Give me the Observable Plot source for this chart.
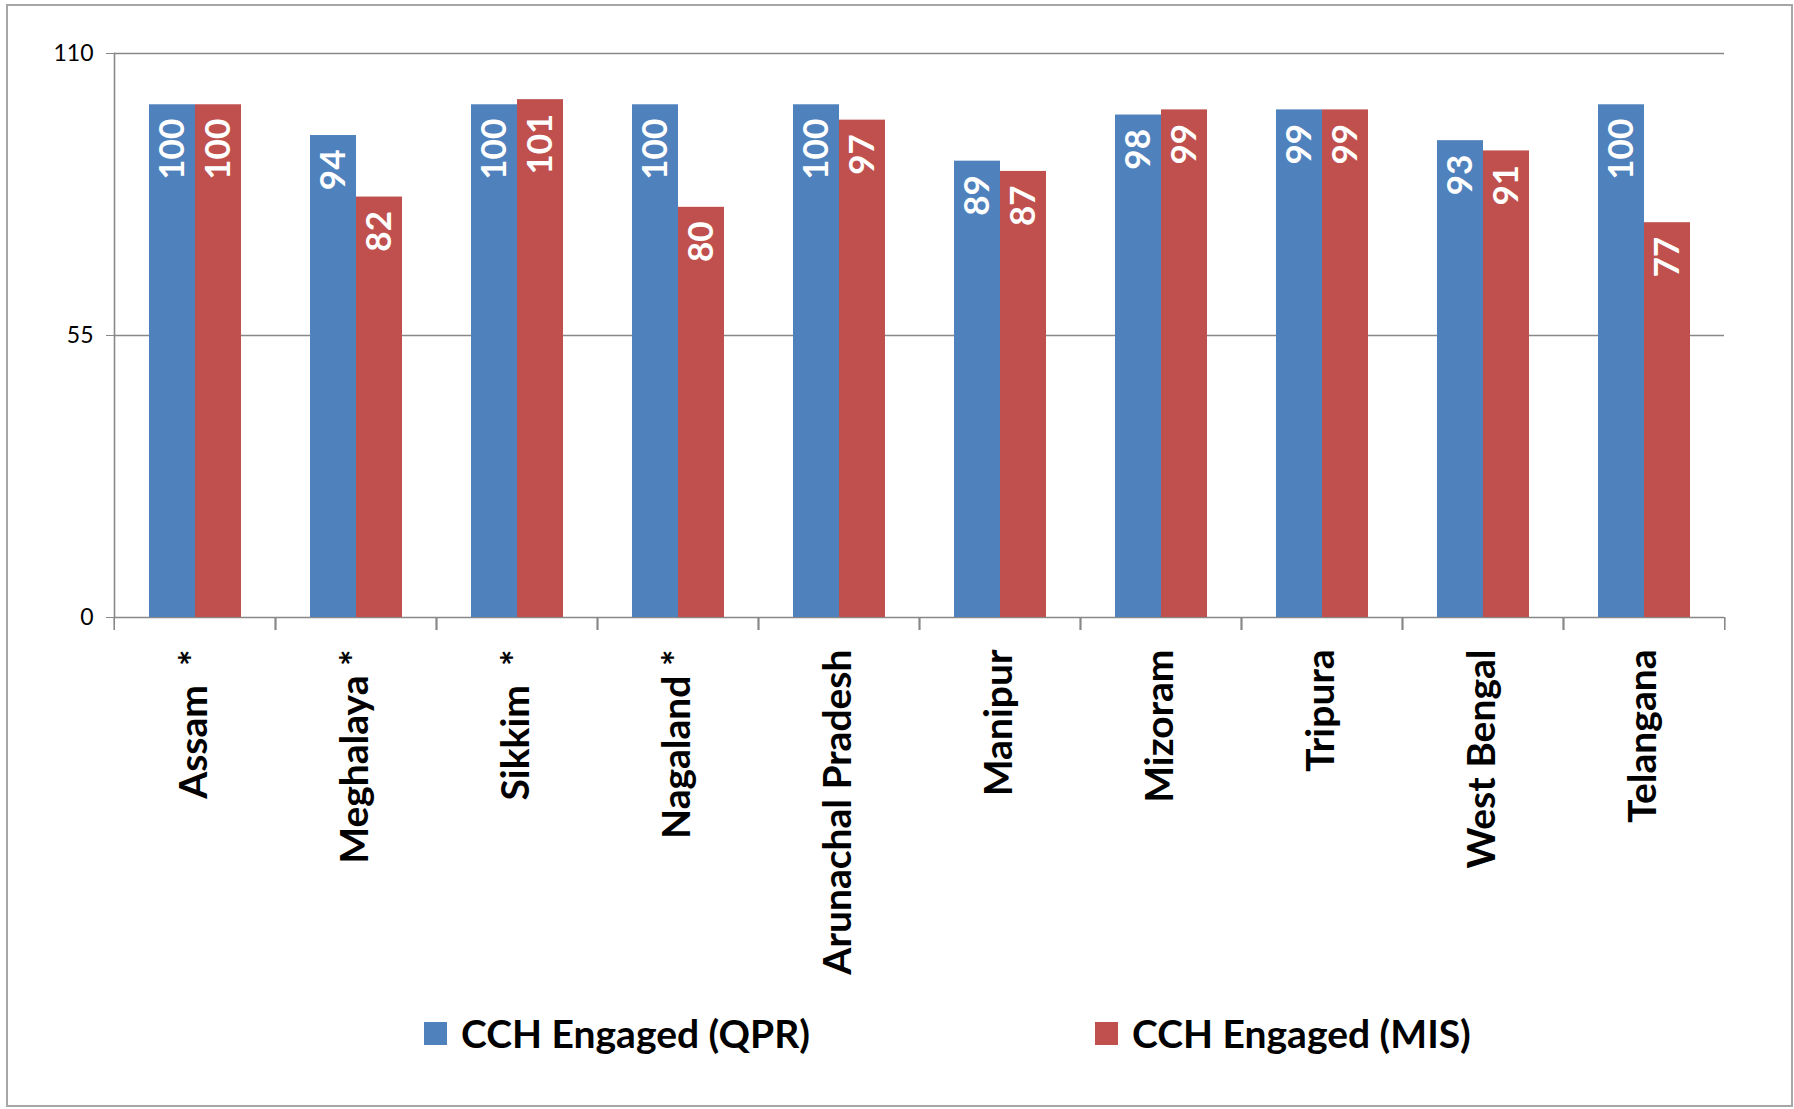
<!DOCTYPE html>
<html>
<head>
<meta charset="utf-8">
<script src="https://cdn.jsdelivr.net/npm/d3@7"></script>
<script src="https://cdn.jsdelivr.net/npm/@observablehq/plot@0.6"></script>
<style>
  html, body { margin: 0; padding: 0; background: #fff; }
  #wrap { position: relative; width: 1794px; height: 1109px; overflow: hidden; font-family: Lato, "Open Sans", sans-serif; }
  #border { position: absolute; left: 6px; top: 4px; width: 1783px; height: 1099px; border: 2px solid #a6a6a6; box-sizing: content-box; }
  #chart { position: absolute; left: 0; top: 0; }
  .leg { position: absolute; top: 1010px; display: flex; align-items: center; font-family: Lato, sans-serif; font-weight: bold; font-size: 39px; color: #000; }
  .sw { width: 23px; height: 23px; margin-right: 14px; }
</style>
</head>
<body>
<div id="wrap">
  <div id="border"></div>
  <div id="chart"></div>
  <div id="legend"></div>
</div>
<script>
const states = ["Assam", "Meghalaya", "Sikkim", "Nagaland", "Arunachal Pradesh", "Manipur", "Mizoram", "Tripura", "West Bengal", "Telangana"];
const stateLabels = ["Assam\u00a0\u00a0*", "Meghalaya\u00a0*", "Sikkim\u00a0\u00a0*", "Nagaland\u00a0*", "Arunachal Pradesh", "Manipur", "Mizoram", "Tripura", "West Bengal", "Telangana"];
const seriesNames = ["CCH Engaged (QPR)", "CCH Engaged (MIS)"];
const qprValues = [100, 94, 100, 100, 100, 89, 98, 99, 93, 100];
const misValues = [100, 82, 101, 80, 97, 87, 99, 99, 91, 77];
const seriesColors = ["#4F81BD", "#C0504D"];
const yTicks = [0, 55, 110];

const data = states.flatMap((s, i) => [
  {state: s, series: seriesNames[0], value: qprValues[i]},
  {state: s, series: seriesNames[1], value: misValues[i]}
]);

const W = 1794, H = 1000, mL = 111, mR = 67, mT = 53, mB = 383;
const step = (W - mL - mR) / states.length;
const labelOf = new Map(states.map((s, i) => [s, stateLabels[i]]));

const chart = Plot.plot({
  width: W, height: H,
  marginTop: mT, marginLeft: mL, marginRight: mR, marginBottom: mB,
  style: {fontFamily: "Lato, 'Open Sans', sans-serif", background: "transparent", color: "#000"},
  fx: {domain: states, padding: 0, label: null, axis: null},
  x: {domain: seriesNames, paddingInner: 0, paddingOuter: 0.74, axis: null},
  y: {domain: [0, 110], label: null, axis: null},
  color: {domain: seriesNames, range: seriesColors},
  marks: [
    Plot.gridY(yTicks, {stroke: "#888", strokeOpacity: 1, strokeWidth: 1.6}),
    Plot.frame({anchor: "left", facet: "super", stroke: "#888", strokeWidth: 1.6}),
    Plot.axisY({ticks: yTicks, tickSize: 8, tickPadding: 13, fontSize: 23, stroke: "#888", fill: "#000", label: null}),
    Plot.barY(data, {fx: "state", x: "series", y: "value", fill: "series"}),
    Plot.text(data, {fx: "state", x: "series", y: "value", text: d => String(d.value), rotate: -90, textAnchor: "end", dy: 14, fill: "white", fontSize: 35, fontWeight: "bold"}),
    Plot.axisFx({anchor: "bottom", tickSize: 13, dx: -step / 2, tickFormat: () => "", stroke: "#888", strokeWidth: 1.6, label: null}),
    Plot.axisFx({anchor: "bottom", tickSize: 13, dx: step / 2, tickFormat: () => "", stroke: "#888", strokeWidth: 1.6, label: null}),
    Plot.axisFx({anchor: "bottom", tickSize: 0, tickPadding: 32, tickRotate: -90, fontSize: 39, fontWeight: "bold", fill: "#000", tickFormat: d => labelOf.get(d), label: null})
  ]
});
document.getElementById("chart").appendChild(chart);

const legend = document.getElementById("legend");
const legendLefts = [424, 1095];
seriesNames.forEach((name, i) => {
  const item = document.createElement("div");
  item.className = "leg";
  item.style.left = legendLefts[i] + "px";
  const sw = document.createElement("div");
  sw.className = "sw";
  sw.style.background = seriesColors[i];
  const t = document.createElement("span");
  t.textContent = name;
  item.appendChild(sw);
  item.appendChild(t);
  legend.appendChild(item);
});
</script>
</body>
</html>
